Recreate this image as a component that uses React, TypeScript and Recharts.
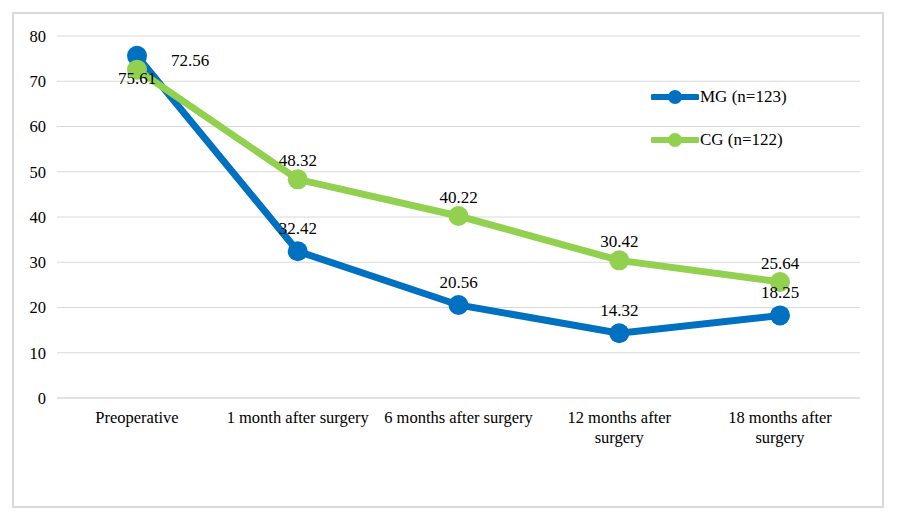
import React from 'react';
import { LineChart, Line, XAxis, YAxis, CartesianGrid, LabelList } from 'recharts';

const categories = [
  'Preoperative',
  '1 month after surgery',
  '6 months after surgery',
  '12 months after\nsurgery',
  '18 months after\nsurgery',
];
const mgValues = [75.61, 32.42, 20.56, 14.32, 18.25];
const cgValues = [72.56, 48.32, 40.22, 30.42, 25.64];
const yTicks = [0, 10, 20, 30, 40, 50, 60, 70, 80];

const data = categories.map((name, i) => ({ name, mg: mgValues[i], cg: cgValues[i] }));

const BLUE = '#0070c0';
const GREEN = '#92d050';
const GRID = '#d9d9d9';
const FONT = 'Liberation Serif, Times New Roman, serif';

const XTick = (props: any) => {
  const { x, y, payload } = props;
  const lines = String(payload.value).split('\n');
  return (
    <text x={x} y={y} textAnchor="middle" fontFamily={FONT} fontSize={16.5} fill="#000">
      {lines.map((l, i) => (
        <tspan key={i} x={x} dy={i === 0 ? 17 : 20}>{l}</tspan>
      ))}
    </text>
  );
};

const makeLabel = (series: 'mg' | 'cg') => (props: any) => {
  const { x, y, value, index } = props;
  let lx = x;
  let ly = series === 'mg' ? y - 17 : y - 13;
  if (index === 0) {
    // first point labels sit off to the side, as in the source chart
    if (series === 'mg') ly = y + 28;
    else { lx = x + 53; ly = y - 4; }
  }
  return (
    <text x={lx} y={ly} textAnchor="middle" fontFamily={FONT} fontSize={17} fill="#000">
      {value.toFixed(2)}
    </text>
  );
};

const LegendItem = ({ color, label, top }: { color: string; label: string; top: number }) => (
  <div style={{ position: 'absolute', left: 651, top: top - 10, height: 20, display: 'flex', alignItems: 'center' }}>
    <svg width={48} height={20}>
      <line x1={2} y1={10} x2={46} y2={10} stroke={color} strokeWidth={6} strokeLinecap="round" />
      <circle cx={24} cy={10} r={7} fill={color} />
    </svg>
    <span style={{ fontFamily: FONT, fontSize: 17, marginLeft: 1 }}>{label}</span>
  </div>
);

export default function App() {
  return (
    <div style={{ position: 'absolute', left: 0, top: 0, width: 898, height: 523, background: '#fff' }}>
      <div style={{ position: 'absolute', left: 12, top: 12, width: 868, height: 492, border: `2px solid ${GRID}` }} />
      <LineChart width={898} height={523} data={data} margin={{ top: 36, right: 38, bottom: 95, left: 0 }}>
        <CartesianGrid vertical={false} stroke={GRID} strokeWidth={1} />
        <XAxis
          dataKey="name"
          height={30}
          padding={{ left: 80, right: 80 }}
          axisLine={{ stroke: GRID }}
          tickLine={false}
          tick={<XTick />}
          tickMargin={2}
          interval={0}
        />
        <YAxis
          width={57}
          domain={[0, 80]}
          ticks={yTicks}
          axisLine={false}
          tickLine={false}
          tickMargin={5}
          tick={{ fontFamily: FONT, fontSize: 16.5, fill: '#000' }}
        />
        <Line
          dataKey="mg"
          stroke={BLUE}
          strokeWidth={7}
          dot={{ r: 10, fill: BLUE, stroke: BLUE, strokeWidth: 0 }}
          isAnimationActive={false}
        >
          <LabelList dataKey="mg" content={makeLabel('mg')} />
        </Line>
        <Line
          dataKey="cg"
          stroke={GREEN}
          strokeWidth={7}
          dot={{ r: 10, fill: GREEN, stroke: GREEN, strokeWidth: 0 }}
          isAnimationActive={false}
        >
          <LabelList dataKey="cg" content={makeLabel('cg')} />
        </Line>
      </LineChart>
      <LegendItem color={BLUE} label="MG (n=123)" top={97} />
      <LegendItem color={GREEN} label="CG (n=122)" top={140} />
    </div>
  );
}
